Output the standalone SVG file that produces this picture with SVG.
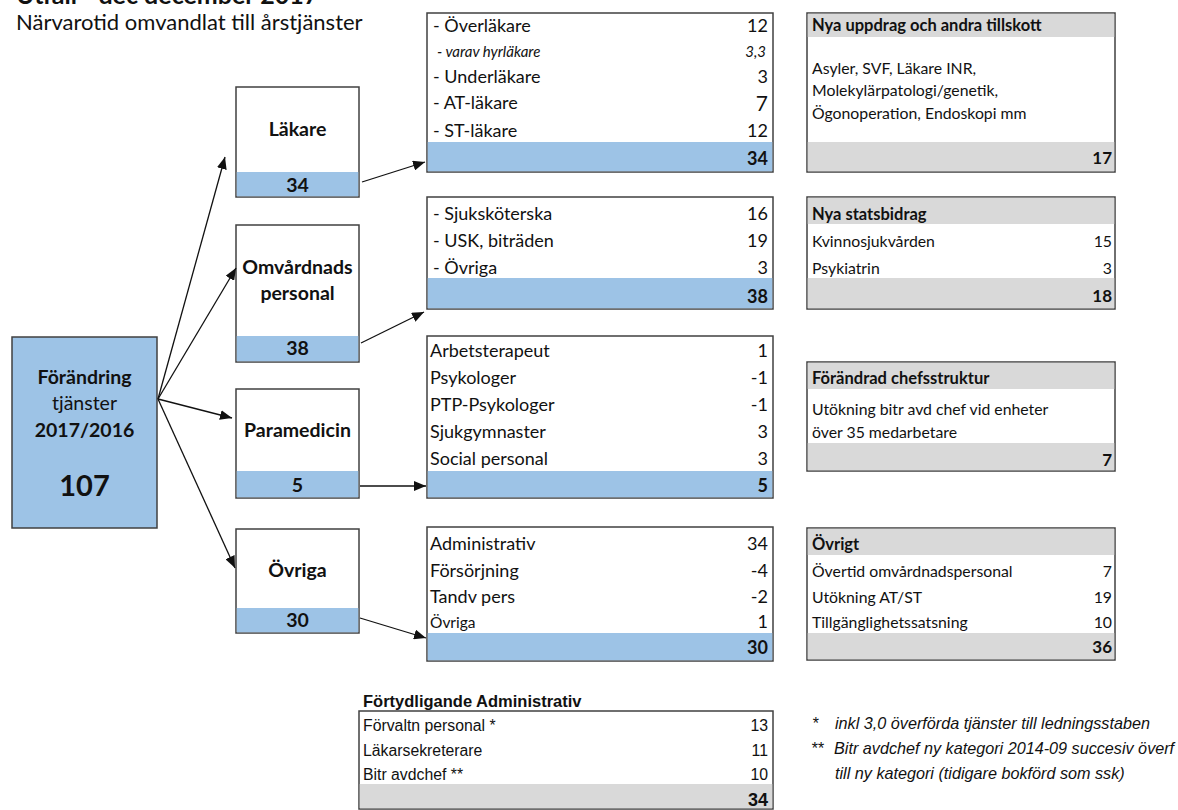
<svg xmlns="http://www.w3.org/2000/svg" width="1178" height="810" viewBox="0 0 1178 810">
<style>
text{font-family:Lato,"Open Sans",sans-serif;fill:#111}
.box{fill:#fff;stroke:#404040;stroke-width:1.5}
.blue{fill:#9DC3E6}
.gray{fill:#D9D9D9}
.lbl{font-size:19.5px;font-weight:bold;text-anchor:middle}
.row{font-size:18px}
.num{font-size:18px;text-anchor:end}
.tot{font-size:18px;font-weight:bold;text-anchor:end}
.sm{font-size:15.8px}
.smn{font-size:15.8px;text-anchor:end}
.hd{font-size:16.5px;font-weight:bold}
.smt{font-size:17px;font-weight:bold;text-anchor:end}
.ar{font-family:"Liberation Sans",Arial,sans-serif;font-size:15.8px}
.arn{font-family:"Liberation Sans",Arial,sans-serif;font-size:15.8px;text-anchor:end}
.it{font-family:"Liberation Sans",Arial,sans-serif;font-size:16.2px;font-style:italic}
.con{stroke:#111;stroke-width:1.3;fill:none;marker-end:url(#ah)}
</style>
<defs>
<marker id="ah" viewBox="0 0 12 10" refX="12" refY="5" markerWidth="12" markerHeight="10" markerUnits="userSpaceOnUse" orient="auto">
<path d="M0,0 L12,5 L0,10 z" fill="#111"/>
</marker>
</defs>
<rect width="1178" height="810" fill="#fff"/>
<g id="title">
<text x="16" y="4" style="font-size:25px;font-weight:bold">Utfall - dec december 2017</text>
<text x="16" y="30" style="font-size:22px">Närvarotid omvandlat till årstjänster</text>
</g>
<g id="forandring">
<rect x="12" y="337" width="145" height="191" class="blue" stroke="#404040" stroke-width="1.5"/>
<text x="84.5" y="384" class="lbl">Förändring</text>
<text x="84.5" y="410" style="font-size:19.5px;text-anchor:middle">tjänster</text>
<text x="84.5" y="437" class="lbl">2017/2016</text>
<text x="84.5" y="496" style="font-size:29px;font-weight:bold;text-anchor:middle">107</text>
</g>
<g id="lakare">
<rect x="236" y="87" width="123" height="110" class="box"/>
<rect x="236.75" y="172" width="121.5" height="24.25" class="blue"/>
<text x="297.5" y="136" class="lbl">Läkare</text>
<text x="297.5" y="192" class="lbl">34</text>
</g>
<g id="omvardnad">
<rect x="236" y="225" width="123" height="137" class="box"/>
<rect x="236.75" y="336" width="121.5" height="25.25" class="blue"/>
<text x="297.5" y="274" class="lbl">Omvårdnads</text>
<text x="297.5" y="300" class="lbl">personal</text>
<text x="297.5" y="355" class="lbl">38</text>
</g>
<g id="paramedicin">
<rect x="236" y="389" width="123" height="109" class="box"/>
<rect x="236.75" y="471" width="121.5" height="26.25" class="blue"/>
<text x="297.5" y="437" class="lbl">Paramedicin</text>
<text x="297.5" y="492" class="lbl">5</text>
</g>
<g id="ovriga">
<rect x="236" y="529" width="123" height="104" class="box"/>
<rect x="236.75" y="608" width="121.5" height="24.25" class="blue"/>
<text x="297.5" y="577" class="lbl">Övriga</text>
<text x="297.5" y="627" class="lbl">30</text>
</g>
<g id="tab-lakare">
<rect x="427" y="13" width="346" height="159" class="box"/>
<rect x="427.75" y="142" width="344.5" height="29.25" class="blue"/>
<text x="433" y="32" class="row">- Överläkare</text><text x="768" y="32" class="num">12</text>
<text x="437" y="57" style="font-size:15px;font-style:italic">- varav hyrläkare</text><text x="766" y="57" style="font-size:15px;font-style:italic;text-anchor:end">3,3</text>
<text x="433" y="83" class="row">- Underläkare</text><text x="768" y="83" class="num">3</text>
<text x="433" y="109" class="row">- AT-läkare</text><text x="768" y="111" style="font-size:21px;text-anchor:end">7</text>
<text x="433" y="137" class="row">- ST-läkare</text><text x="768" y="137" class="num">12</text>
<text x="768" y="165" class="tot">34</text>
</g>
<g id="tab-omv">
<rect x="427" y="197" width="346" height="112" class="box"/>
<rect x="427.75" y="278" width="344.5" height="30.25" class="blue"/>
<text x="433" y="220" class="row">- Sjuksköterska</text><text x="768" y="220" class="num">16</text>
<text x="433" y="247" class="row">- USK, biträden</text><text x="768" y="247" class="num">19</text>
<text x="433" y="274" class="row">- Övriga</text><text x="768" y="274" class="num">3</text>
<text x="768" y="303" class="tot">38</text>
</g>
<g id="tab-para">
<rect x="427" y="336" width="346" height="162" class="box"/>
<rect x="427.75" y="471" width="344.5" height="26.25" class="blue"/>
<text x="430" y="357" class="row">Arbetsterapeut</text><text x="768" y="357" class="num">1</text>
<text x="430" y="384" class="row">Psykologer</text><text x="768" y="384" class="num">-1</text>
<text x="430" y="411" class="row">PTP-Psykologer</text><text x="768" y="411" class="num">-1</text>
<text x="430" y="438" class="row">Sjukgymnaster</text><text x="768" y="438" class="num">3</text>
<text x="430" y="465" class="row">Social personal</text><text x="768" y="465" class="num">3</text>
<text x="768" y="492" class="tot">5</text>
</g>
<g id="tab-ovr">
<rect x="427" y="527" width="346" height="134" class="box"/>
<rect x="427.75" y="633" width="344.5" height="27.25" class="blue"/>
<text x="430" y="550" class="row">Administrativ</text><text x="768" y="550" class="num">34</text>
<text x="430" y="577" class="row">Försörjning</text><text x="768" y="577" class="num">-4</text>
<text x="430" y="603" class="row">Tandv pers</text><text x="768" y="603" class="num">-2</text>
<text x="430" y="628" style="font-size:15.5px">Övriga</text><text x="768" y="628" class="num">1</text>
<text x="768" y="654" class="tot">30</text>
</g>
<g id="nya-uppdrag">
<rect x="807" y="13" width="308" height="159" class="box"/>
<rect x="807.75" y="13.75" width="306.5" height="23.25" class="gray"/>
<rect x="807.75" y="142" width="306.5" height="29.25" class="gray"/>
<text x="812" y="31" class="hd">Nya uppdrag och andra tillskott</text>
<text x="812" y="74" class="sm">Asyler, SVF, Läkare INR,</text>
<text x="812" y="96" class="sm">Molekylärpatologi/genetik,</text>
<text x="812" y="119" class="sm">Ögonoperation, Endoskopi mm</text>
<text x="1112" y="164" class="smt">17</text>
</g>
<g id="statsbidrag">
<rect x="807" y="197" width="308" height="112" class="box"/>
<rect x="807.75" y="197.75" width="306.5" height="26.25" class="gray"/>
<rect x="807.75" y="278" width="306.5" height="30.25" class="gray"/>
<text x="812" y="220" class="hd">Nya statsbidrag</text>
<text x="812" y="247" class="sm">Kvinnosjukvården</text><text x="1112" y="247" class="smn">15</text>
<text x="812" y="274" class="sm">Psykiatrin</text><text x="1112" y="274" class="smn">3</text>
<text x="1112" y="302" class="smt">18</text>
</g>
<g id="chefsstruktur">
<rect x="807" y="362" width="308" height="109" class="box"/>
<rect x="807.75" y="362.75" width="306.5" height="26.25" class="gray"/>
<rect x="807.75" y="443" width="306.5" height="27.25" class="gray"/>
<text x="812" y="384" class="hd">Förändrad chefsstruktur</text>
<text x="812" y="415" class="sm">Utökning bitr avd chef vid enheter</text>
<text x="812" y="438" class="sm">över 35 medarbetare</text>
<text x="1112" y="466" class="smt">7</text>
</g>
<g id="ovrigt">
<rect x="807" y="528" width="308" height="132" class="box"/>
<rect x="807.75" y="528.75" width="306.5" height="26.25" class="gray"/>
<rect x="807.75" y="633" width="306.5" height="26.25" class="gray"/>
<text x="812" y="550" class="hd">Övrigt</text>
<text x="812" y="577" class="sm">Övertid omvårdnadspersonal</text><text x="1112" y="577" class="smn">7</text>
<text x="812" y="603" class="sm">Utökning AT/ST</text><text x="1112" y="603" class="smn">19</text>
<text x="812" y="628" class="sm">Tillgänglighetssatsning</text><text x="1112" y="628" class="smn">10</text>
<text x="1112" y="653" class="smt">36</text>
</g>
<g id="fortydligande">
<text x="363" y="707" style="font-family:'Liberation Sans',Arial,sans-serif;font-size:16.5px;font-weight:bold">Förtydligande Administrativ</text>
<rect x="359" y="711" width="414" height="98" class="box"/>
<rect x="359.75" y="784" width="412.5" height="24.25" class="gray"/>
<text x="363" y="731" class="ar">Förvaltn personal *</text><text x="768" y="731" class="arn">13</text>
<text x="363" y="756" class="ar">Läkarsekreterare</text><text x="768" y="756" class="arn">11</text>
<text x="363" y="780" class="ar">Bitr avdchef **</text><text x="768" y="780" class="arn">10</text>
<text x="768" y="806" style="font-family:'Liberation Sans',Arial,sans-serif;font-size:18px;font-weight:bold;text-anchor:end">34</text>
</g>
<g id="footnotes">
<text x="812" y="729" class="it">*</text><text x="835" y="729" class="it">inkl 3,0 överförda tjänster till ledningsstaben</text>
<text x="811" y="754" class="it">**</text><text x="834" y="754" class="it">Bitr avdchef ny kategori 2014-09 succesiv överf</text>
<text x="835" y="779" class="it">till ny kategori (tidigare bokförd som ssk)</text>
</g>
<g id="connectors">
<line x1="158" y1="399" x2="225" y2="157" class="con"/>
<line x1="158" y1="399" x2="236" y2="268" class="con"/>
<line x1="158" y1="399" x2="232" y2="418" class="con"/>
<line x1="158" y1="399" x2="235" y2="568" class="con"/>
<line x1="362" y1="182" x2="425" y2="162" class="con"/>
<line x1="361" y1="343" x2="424" y2="312" class="con"/>
<line x1="360" y1="486" x2="426" y2="486" class="con"/>
<line x1="360" y1="618" x2="426" y2="638" class="con"/>
</g>
</svg>
